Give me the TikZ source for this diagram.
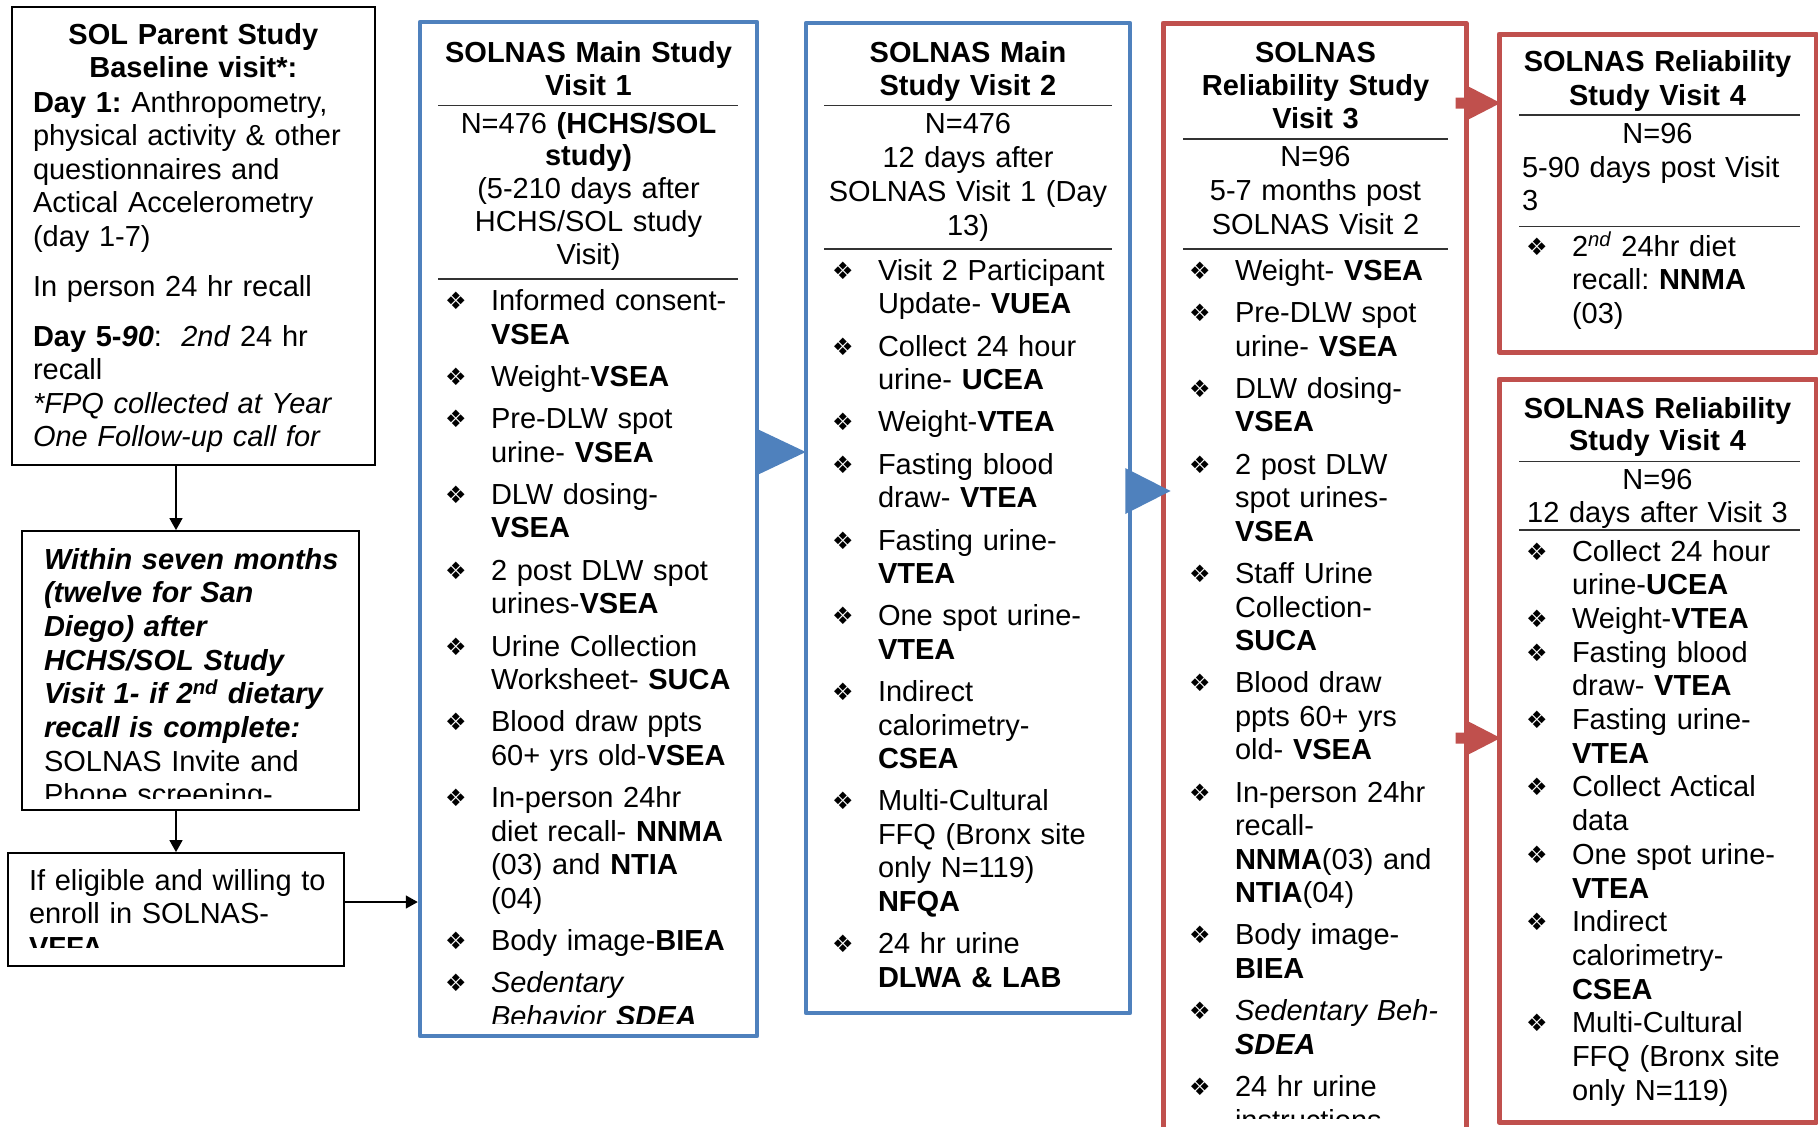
\documentclass[tikz,border=0pt]{standalone}
\usepackage{fontspec}
\setmainfont{Liberation Sans}
\newfontfamily\dejavu{DejaVu Sans}
\usetikzlibrary{arrows.meta,calc}
\definecolor{bluec}{HTML}{4F81BD}
\definecolor{redc}{HTML}{C0504D}
\frenchspacing
\newcommand\bl{\makebox[46pt][l]{\raisebox{1pt}{\dejavu\fontsize{24}{24}\selectfont ❖}}}
\newcommand\ind{\hspace*{46pt}}
\newcommand\bi[1]{\textbf{\textit{#1}}}
\newcommand\nx{\\[8.8pt]}
\begin{document}
\begin{tikzpicture}[x=1pt,y=-1pt,
  txt/.style={inner sep=0pt, outer sep=0pt, font=\fontsize{29}{33.5}\selectfont},
  ctxt/.style={txt, align=center, text width=#1, anchor=base},
  ltxt/.style={txt, align=left, text width=#1, anchor=base west},
  bbox/.style={draw=black, line width=1.8pt, inner sep=0pt},
  bluebox/.style={draw=bluec, line width=4.5pt, inner sep=0pt, line join=round},
  redbox/.style={draw=redc, line width=5pt, inner sep=0pt, line join=round},
  sepline/.style={draw=black!80, line width=1.5pt},
  blk/.style={draw=black, line width=1.5pt, -{Triangle[length=12pt,width=13pt]}}
]
\useasboundingbox (0,0) rectangle (1818,1127);

% ---------- boxes ----------
\node[bbox, minimum width=363.3pt, minimum height=457.7pt] (parent) at (193.35,236.15) {};
\node[bbox, minimum width=337.3pt, minimum height=279pt] (within) at (190.35,670.5) {};
\node[bbox, minimum width=336pt, minimum height=113pt] (elig) at (176,909.5) {};
\node[bluebox, minimum width=337pt, minimum height=1014pt] (v1) at (588.5,529) {};
\node[bluebox, minimum width=324pt, minimum height=990pt] (v2) at (968,518) {};
\node[redbox, minimum width=303pt, minimum height=1122pt] (v3) at (1314.5,584) {};
\node[redbox, minimum width=317pt, minimum height=318pt] (v4a) at (1657.5,193) {};
\node[redbox, minimum width=317pt, minimum height=743pt] (v4b) at (1657.5,750.5) {};

% ---------- separators ----------
\draw[sepline] (438,105.5) -- (738,105.5);
\draw[sepline] (438,279) -- (738,279);
\draw[sepline] (824,105.5) -- (1112,105.5);
\draw[sepline] (824,249) -- (1112,249);
\draw[sepline] (1183,139) -- (1448,139);
\draw[sepline] (1183,249) -- (1448,249);
\draw[sepline] (1519,115) -- (1800,115);
\draw[sepline] (1519,226.5) -- (1800,226.5);
\draw[sepline] (1519,461.5) -- (1800,461.5);
\draw[sepline] (1519,530) -- (1800,530);

% ---------- connectors ----------
\coordinate (vx) at (176,0);
\coordinate (hy) at (0,902);
\draw[blk] (parent.south -| vx) -- (within.north -| vx);
\draw[blk] (within.south -| vx) -- (elig.north -| vx);
\draw[blk] (elig.east |- hy) -- (v1.west |- hy);

\coordinate (b1) at (0,452);
\coordinate (b2) at (0,491);
\fill[bluec] ($(v1.east |- b1)+(-2,-23)$) -- ($(v1.east |- b1)+(-2,23)$) -- ($(v2.west |- b1)+(2,0)$) -- cycle;
\fill[bluec] ($(v2.east |- b2)+(-7,-23)$) -- ($(v2.east |- b2)+(-7,23)$) -- ($(v3.west |- b2)+(10,0)$) -- cycle;

\coordinate (r1) at (0,103);
\coordinate (r2) at (0,738);
\fill[redc] ($(v3.east |- r1)+(-13,-5.5)$) -- ($(v3.east |- r1)+(-1,-5.5)$) -- ($(v3.east |- r1)+(-1,-17)$)
  -- ($(v4a.west |- r1)+(4,0)$) -- ($(v3.east |- r1)+(-1,17)$) -- ($(v3.east |- r1)+(-1,5.5)$)
  -- ($(v3.east |- r1)+(-13,5.5)$) -- cycle;
\fill[redc] ($(v3.east |- r2)+(-13,-5.5)$) -- ($(v3.east |- r2)+(-1,-5.5)$) -- ($(v3.east |- r2)+(-1,-17)$)
  -- ($(v4b.west |- r2)+(4,0)$) -- ($(v3.east |- r2)+(-1,17)$) -- ($(v3.east |- r2)+(-1,5.5)$)
  -- ($(v3.east |- r2)+(-13,5.5)$) -- cycle;

% ---------- parent text ----------
\begin{scope}
\clip (12,8) rectangle (374,458);
\node[ctxt=340pt] (t0) at (193.35,44) {\textbf{SOL Parent Study}\\ \textbf{Baseline visit*:}};
\node[ltxt=340pt] (x0) at (33,112) {\textbf{Day 1:} Anthropometry,\\ physical activity \& other\\ questionnaires and\\ Actical Accelerometry\\ (day 1-7)\\[16.5pt] In person 24 hr recall\\[16.5pt] \textbf{Day 5-\textit{90}}:\ \ \textit{2nd} 24 hr\\ recall\\ \textit{*FPQ collected at Year}\\ \textit{One Follow-up call for}};
\end{scope}

% ---------- within text ----------
\begin{scope}
\clip (22,532) rectangle (358,798);
\node[ltxt=320pt, font=\fontsize{29}{33.7}\selectfont] (x1) at (44,569) {\bi{Within seven months}\\ \bi{(twelve for San}\\ \bi{Diego) after}\\ \bi{HCHS/SOL Study}\\ \bi{Visit 1- if 2\textsuperscript{nd} dietary}\\ \bi{recall is complete:}\\ SOLNAS Invite and\\ Phone screening-};
\end{scope}

% ---------- eligible text ----------
\begin{scope}
\clip (9,854) rectangle (343,947);
\node[ltxt=320pt] (x2) at (29,890) {If eligible and willing to\\ enroll in SOLNAS-\\ \textbf{VFFA}};
\end{scope}

% ---------- visit 1 ----------
\node[ctxt=320pt, font=\fontsize{29}{33}\selectfont] (t1) at (588.5,62) {\textbf{SOLNAS Main Study}\\ \textbf{Visit 1}};
\node[ctxt=320pt, font=\fontsize{29}{32.75}\selectfont] (h1) at (588.5,133) {N=476 \textbf{(HCHS/SOL}\\ \textbf{study)}\\ (5-210 days after\\ HCHS/SOL study\\ Visit)};
\begin{scope}
\clip (423,285) rectangle (754,1023);
\node[ltxt=310pt] (l1) at (445,310.5) {\bl Informed consent-\\ \ind\textbf{VSEA}\nx
\bl Weight-\textbf{VSEA}\nx
\bl Pre-DLW spot\\ \ind urine- \textbf{VSEA}\nx
\bl DLW dosing-\\ \ind\textbf{VSEA}\nx
\bl 2 post DLW spot\\ \ind urines-\textbf{VSEA}\nx
\bl Urine Collection\\ \ind Worksheet- \textbf{SUCA}\nx
\bl Blood draw ppts\\ \ind 60+ yrs old-\textbf{VSEA}\nx
\bl In-person 24hr\\ \ind diet recall- \textbf{NNMA}\\ \ind (03) and \textbf{NTIA}\\ \ind (04)\nx
\bl Body image-\textbf{BIEA}\nx
\bl \textit{Sedentary}\\ \ind\textit{Behavior} \bi{SDEA}};
\end{scope}

% ---------- visit 2 ----------
\node[ctxt=310pt, font=\fontsize{29}{33}\selectfont] (t2) at (968,62) {\textbf{SOLNAS Main}\\ \textbf{Study Visit 2}};
\node[ctxt=310pt, font=\fontsize{29}{34}\selectfont] (h2) at (968,133) {N=476\\ 12 days after\\ SOLNAS Visit 1 (Day\\ 13)};
\node[ltxt=290pt] (l2) at (832,280.3) {\bl Visit 2 Participant\\ \ind Update- \textbf{VUEA}\nx
\bl Collect 24 hour\\ \ind urine- \textbf{UCEA}\nx
\bl Weight-\textbf{VTEA}\nx
\bl Fasting blood\\ \ind draw- \textbf{VTEA}\nx
\bl Fasting urine-\\ \ind\textbf{VTEA}\nx
\bl One spot urine-\\ \ind\textbf{VTEA}\nx
\bl Indirect\\ \ind calorimetry-\\ \ind\textbf{CSEA}\nx
\bl Multi-Cultural\\ \ind FFQ (Bronx site\\ \ind only N=119)\\ \ind\textbf{NFQA}\nx
\bl 24 hr urine\\ \ind\textbf{DLWA \& LAB}};

% ---------- visit 3 ----------
\node[ctxt=290pt, font=\fontsize{29}{33.2}\selectfont] (t3) at (1315.5,62) {\textbf{SOLNAS}\\ \textbf{Reliability Study}\\ \textbf{Visit 3}};
\node[ctxt=290pt, font=\fontsize{29}{34}\selectfont] (h3) at (1315.5,166.7) {N=96\\ 5-7 months post\\ SOLNAS Visit 2};
\begin{scope}
\clip (1167,255) rectangle (1463,1118);
\node[ltxt=270pt] (l3) at (1189,280.3) {\bl Weight- \textbf{VSEA}\nx
\bl Pre-DLW spot\\ \ind urine- \textbf{VSEA}\nx
\bl DLW dosing-\\ \ind\textbf{VSEA}\nx
\bl 2 post DLW\\ \ind spot urines-\\ \ind\textbf{VSEA}\nx
\bl Staff Urine\\ \ind Collection-\\ \ind\textbf{SUCA}\nx
\bl Blood draw\\ \ind ppts 60+ yrs\\ \ind old- \textbf{VSEA}\nx
\bl In-person 24hr\\ \ind recall-\\ \ind\textbf{NNMA}(03) and\\ \ind\textbf{NTIA}(04)\nx
\bl Body image-\\ \ind\textbf{BIEA}\nx
\bl \textit{Sedentary Beh-}\\ \ind\bi{SDEA}\nx
\bl 24 hr urine\\ \ind instructions};
\end{scope}

% ---------- visit 4 (a) ----------
\node[ctxt=300pt, font=\fontsize{29}{33.6}\selectfont] (t4) at (1657.5,71.6) {\textbf{SOLNAS Reliability}\\ \textbf{Study Visit 4}};
\node[ctxt=300pt] (h4) at (1657.5,143.5) {N=96};
\node[ltxt=290pt] (d4) at (1522,177) {5-90 days post Visit\\ 3};
\node[ltxt=280pt] (l4) at (1526,256) {\bl 2\textsuperscript{\textit{nd}} 24hr diet\\ \ind recall: \textbf{NNMA}\\ \ind (03)};

% ---------- visit 4 (b) ----------
\node[ctxt=300pt, font=\fontsize{29}{32.7}\selectfont] (t5) at (1657.5,418) {\textbf{SOLNAS Reliability}\\ \textbf{Study Visit 4}};
\node[ctxt=300pt, font=\fontsize{29}{33.6}\selectfont] (h5) at (1657.5,489) {N=96\\ 12 days after Visit 3};
\node[ltxt=280pt, font=\fontsize{29}{33.7}\selectfont] (l5) at (1526,561) {\bl Collect 24 hour\\ \ind urine-\textbf{UCEA}\\
\bl Weight-\textbf{VTEA}\\
\bl Fasting blood\\ \ind draw- \textbf{VTEA}\\
\bl Fasting urine-\\ \ind\textbf{VTEA}\\
\bl Collect Actical\\ \ind data\\
\bl One spot urine-\\ \ind\textbf{VTEA}\\
\bl Indirect\\ \ind calorimetry-\\ \ind\textbf{CSEA}\\
\bl Multi-Cultural\\ \ind FFQ (Bronx site\\ \ind only N=119)};
\end{tikzpicture}
\end{document}
